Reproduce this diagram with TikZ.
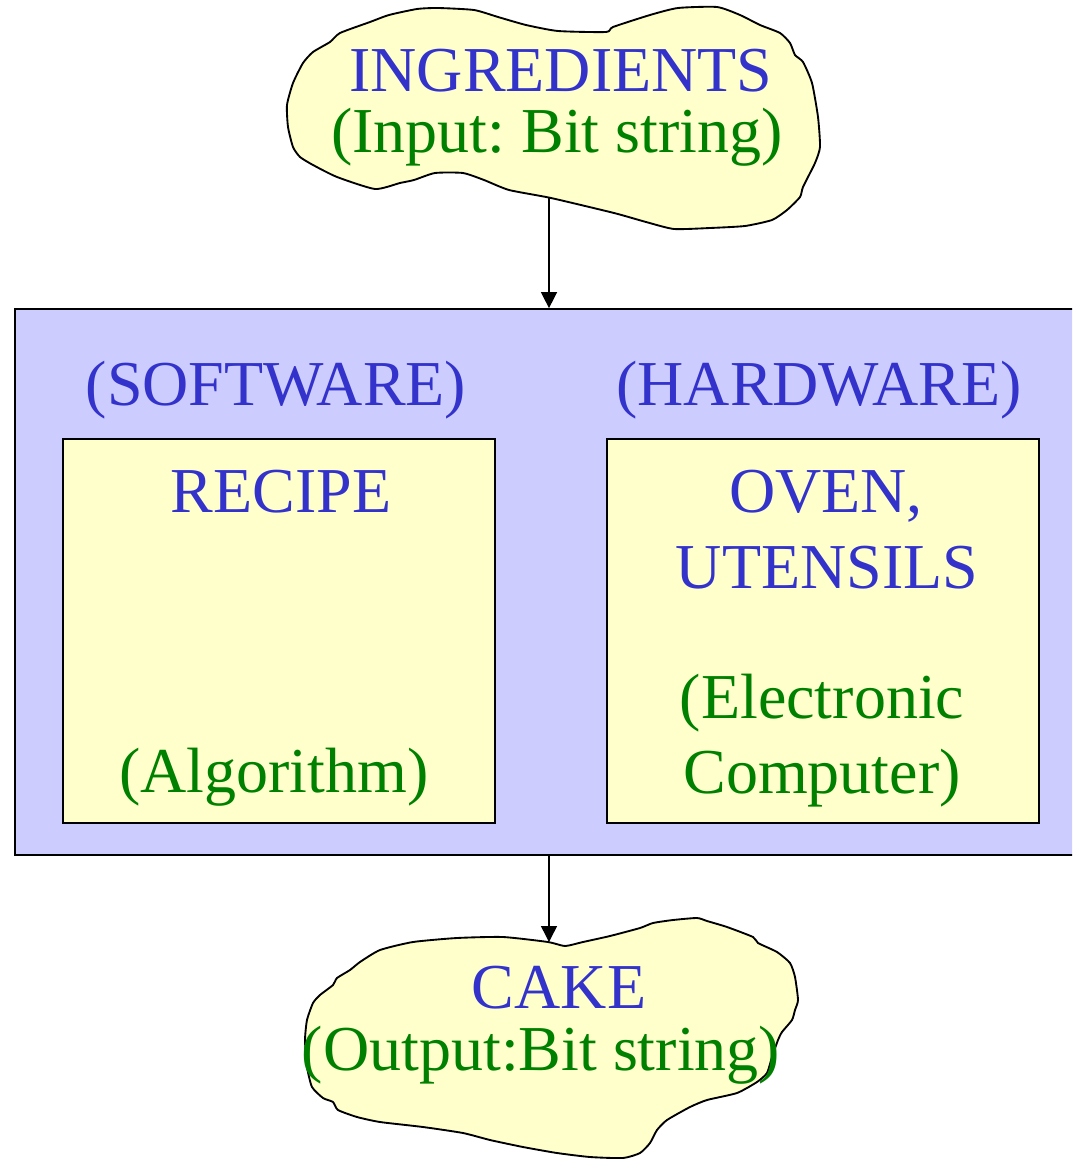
\documentclass[tikz,border=0pt]{standalone}
\usepackage{fontspec}
\setmainfont{Liberation Serif}
\usetikzlibrary{arrows.meta}
\definecolor{titleblue}{HTML}{3333CC}
\definecolor{notegreen}{HTML}{008000}
\definecolor{paleyellow}{HTML}{FFFFCC}
\definecolor{lavender}{HTML}{CCCCFF}
\frenchspacing

\begin{document}
\begin{tikzpicture}[x=0.75pt,y=-0.75pt,
  blob/.style={draw=black, line width=1.4pt, fill=paleyellow, line join=round},
  panel/.style={rectangle, draw=black, line width=1.3pt, fill=lavender, inner sep=0pt},
  card/.style={rectangle, draw=black, line width=1.3pt, fill=paleyellow, inner sep=0pt},
  head/.style={text=titleblue, font=\fontsize{48}{48}\selectfont, anchor=base, inner sep=0pt},
  note/.style={text=notegreen, font=\fontsize{48}{48}\selectfont, anchor=base, inner sep=0pt},
  flow/.style={-{Triangle[width=12pt,length=12pt]}, line width=1.1pt}
]
\clip (0,0) rectangle (1072,1159);

% input blob
\draw[blob] plot[smooth cycle, tension=0.35] coordinates {
  (288,127) (287,105) (293,83) (303,63) (313,52) (330,42) (340,33) (370,22)
  (389,15) (417,9) (438,8) (474,10) (498,17) (526,25) (558,31) (606,32)
  (613,27) (650,15) (678,8) (717,7) (740,15) (760,25) (780,33) (790,43)
  (795,55) (803,62) (812,83) (818,117) (820,147) (815,163) (803,187) (800,197)
  (787,210) (772,220) (745,226) (710,228) (674,229) (646,222) (614,213)
  (551,198) (509,190) (484,180) (463,173) (435,173) (414,180) (400,183)
  (375,189) (337,177) (313,165) (300,157) (293,147)};
\coordinate (inTip) at (549,198);

% output blob
\draw[blob] plot[smooth cycle, tension=0.35] coordinates {
  (305,1040) (307,1020) (313,1003) (320,995) (333,985) (337,978) (350,970)
  (360,962) (380,950) (413,942) (457,938) (503,937) (548,942) (565,946)
  (583,942) (610,936) (640,928) (653,923) (673,920) (697,918) (707,921)
  (727,927) (753,937) (758,943) (777,952) (790,963) (795,977) (798,1000)
  (795,1010) (792,1020) (782,1032) (778,1040) (772,1057) (767,1073)
  (757,1082) (737,1093) (707,1100) (690,1107) (667,1120) (657,1130)
  (650,1143) (640,1153) (623,1158) (590,1157) (557,1153) (523,1147)
  (490,1140) (463,1133) (423,1127) (380,1122) (357,1117) (338,1110)
  (333,1102) (323,1098) (312,1087) (307,1067)};
\coordinate (outTip) at (549,942);

% system panel and its two cards
\node[panel, minimum width=802.5pt, minimum height=409.5pt] (system) at (550,582) {};
\node[card, minimum width=324pt, minimum height=288pt] (recipe) at (279,631) {};
\node[card, minimum width=324pt, minimum height=288pt] (oven) at (823,631) {};

% texts
\node[head] (ingA) at (561,92) {INGREDIENTS};
\node[note] (ingB) at (557,152) {(Input: Bit string)};
\node[head] (swLbl) at (276,405) {(SOFTWARE)};
\node[head] (hwLbl) at (819,405) {(HARDWARE)};
\node[head] (recA) at (281,512) {RECIPE};
\node[note] (recB) at (274,792) {(Algorithm)};
\node[head] (ovA) at (826,512) {OVEN,};
\node[head] (ovB) at (827,588) {UTENSILS};
\node[note] (ovC) at (822,718) {(Electronic};
\node[note] (ovD) at (822,793) {Computer)};
\node[head] (cakeA) at (559,1008) {CAKE};
\node[note] (cakeB) at (541,1070) {(Output:Bit string)};

% flow
\draw[flow] (inTip) -- (inTip |- system.north);
\draw[flow] (outTip |- system.south) -- (outTip);
\end{tikzpicture}
\end{document}
